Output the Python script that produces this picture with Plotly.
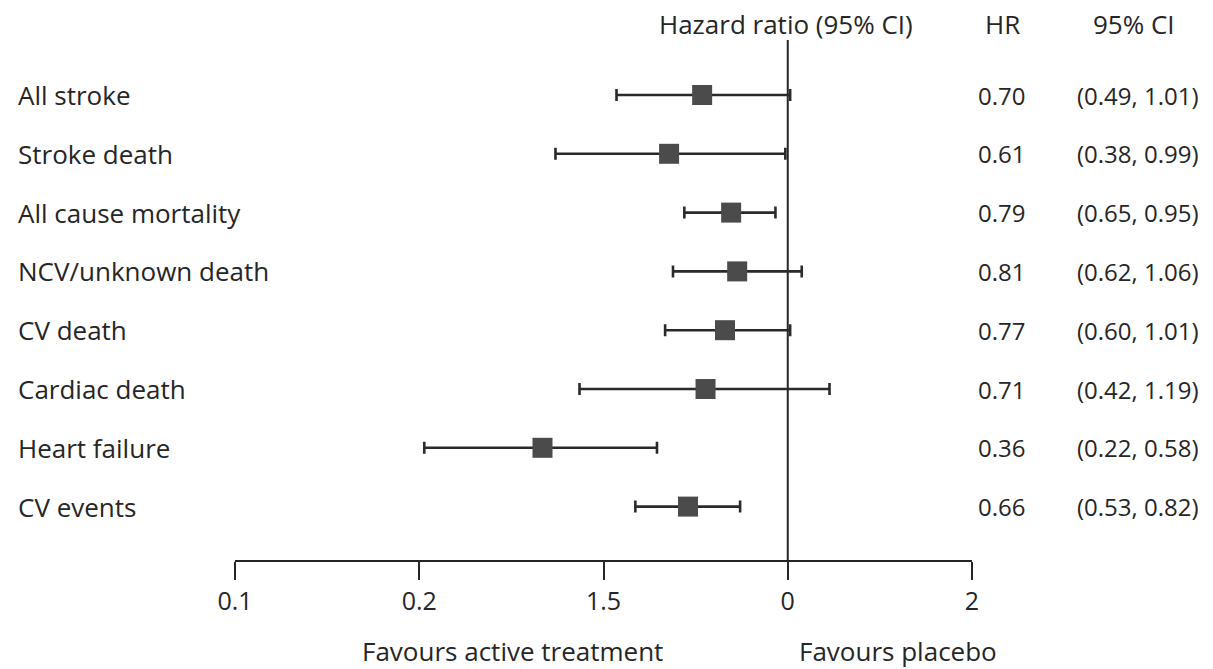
import numpy as np
import plotly.graph_objects as go

# Outcomes, hazard ratios and 95% confidence limits
outcomes = ["All stroke", "Stroke death", "All cause mortality", "NCV/unknown death",
            "CV death", "Cardiac death", "Heart failure", "CV events"]
hr = [0.70, 0.61, 0.79, 0.81, 0.77, 0.71, 0.36, 0.66]
ci_low = [0.49, 0.38, 0.65, 0.62, 0.60, 0.42, 0.22, 0.53]
ci_high = [1.01, 0.99, 0.95, 1.06, 1.01, 1.19, 0.58, 0.82]

# Axis tick labels as printed
tick_text = ["0.1", "0.2", "1.5", "0", "2"]

FONT = "'Open Sans', 'Noto Sans', sans-serif"
INK = "#262626"

W, H = 1213, 669
PLOT_L, PLOT_R = 235, 972
PLOT_T, PLOT_B = 40, 560
ROW0, ROW_STEP = 95, 58.8


def row_val(px):
    """Convert a vertical pixel position into the row-index axis unit."""
    return (px - ROW0) / ROW_STEP


def px_x(px):
    """Horizontal pixel position as a paper fraction of the plot area."""
    return (px - PLOT_L) / (PLOT_R - PLOT_L)


def px_y(px):
    """Vertical pixel position as a paper fraction of the plot area."""
    return (PLOT_B - px) / (PLOT_B - PLOT_T)


rows = list(range(len(outcomes)))

fig = go.Figure()

# Vertical line of no effect (HR = 1)
fig.add_trace(go.Scatter(
    x=[1, 1], y=[row_val(PLOT_T), row_val(PLOT_B)],
    mode="lines", line=dict(color=INK, width=2),
    hoverinfo="skip", showlegend=False, cliponaxis=False,
))

# Point estimates with confidence intervals
fig.add_trace(go.Scatter(
    x=hr, y=rows, mode="markers",
    marker=dict(symbol="square", size=20, color="#4b4b4b", line=dict(width=0)),
    error_x=dict(
        type="data", symmetric=False,
        array=[h - m for h, m in zip(ci_high, hr)],
        arrayminus=[m - l for m, l in zip(hr, ci_low)],
        color="#2a2a2a", thickness=2.6, width=6,
    ),
    showlegend=False, cliponaxis=False,
))

annotations = []
for i, name in enumerate(outcomes):
    annotations.append(dict(x=px_x(16), xref="paper", y=i, yref="y", text=name,
                            xanchor="left", yanchor="middle", showarrow=False,
                            font=dict(family=FONT, size=26, color=INK)))
    annotations.append(dict(x=px_x(1001), xref="paper", y=i, yref="y", text=f"{hr[i]:.2f}",
                            xanchor="center", yanchor="middle", showarrow=False,
                            font=dict(family=FONT, size=24, color=INK)))
    annotations.append(dict(x=px_x(1138), xref="paper", y=i, yref="y",
                            text=f"({ci_low[i]:.2f}, {ci_high[i]:.2f})",
                            xanchor="center", yanchor="middle", showarrow=False,
                            font=dict(family=FONT, size=24, color=INK)))

# Column headers
for px, txt in [(786, "Hazard ratio (95% CI)"), (1002, "HR"), (1134, "95% CI")]:
    annotations.append(dict(x=px_x(px), xref="paper", y=px_y(24), yref="paper",
                            text=txt, xanchor="center", yanchor="middle",
                            showarrow=False,
                            font=dict(family=FONT, size=26, color=INK)))

# Direction labels beneath the axis
for px, txt in [(512, "Favours active treatment"), (898, "Favours placebo")]:
    annotations.append(dict(x=px_x(px), xref="paper", y=px_y(651), yref="paper",
                            text=txt, xanchor="center", yanchor="middle",
                            showarrow=False,
                            font=dict(family=FONT, size=26, color=INK)))

fig.update_layout(
    width=W, height=H,
    margin=dict(l=PLOT_L, r=W - PLOT_R, t=PLOT_T, b=H - PLOT_B, pad=0),
    paper_bgcolor="white", plot_bgcolor="white",
    annotations=annotations,
    xaxis=dict(
        type="log", range=[-1, 1 / 3],
        tickvals=list(10 ** np.linspace(-1, 1 / 3, 5)), ticktext=tick_text,
        ticks="outside", ticklen=18, tickwidth=2, tickcolor=INK,
        showline=True, linecolor=INK, linewidth=2,
        showgrid=False, zeroline=False,
        tickfont=dict(family=FONT, size=25, color=INK),
    ),
    yaxis=dict(
        range=[row_val(PLOT_B), row_val(PLOT_T)],
        showticklabels=False, showgrid=False, zeroline=False, showline=False,
    ),
)

fig.write_html("out.html")
